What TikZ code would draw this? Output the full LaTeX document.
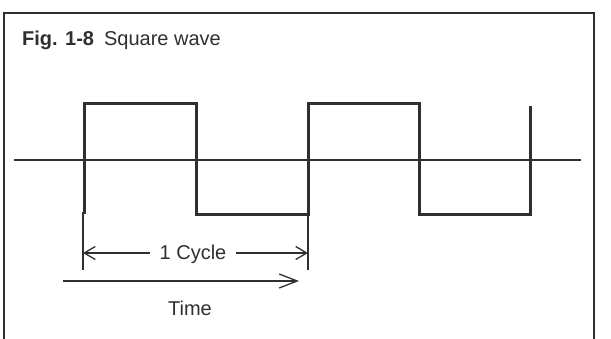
\documentclass[tikz,border=0pt]{standalone}
\usepackage{fontspec}
\setmainfont{Liberation Sans}
\usetikzlibrary{arrows.meta}
\definecolor{ink}{HTML}{2E302E}
\tikzset{
  frameline/.style={ink, line width=2.4pt},
  waveline/.style={ink, line width=3pt, line join=miter},
  axisline/.style={ink, line width=1.4pt},
  dimline/.style={ink, line width=1.3pt},
  label/.style={text=ink, font=\fontsize{20}{24}\selectfont, inner sep=0pt, anchor=base},
  barb/.tip={Straight Barb[length=11pt, width=13pt, line width=1.3pt]},
  bigbarb/.tip={Straight Barb[length=18pt, width=14pt, line width=1.3pt]}
}
\begin{document}
\begin{tikzpicture}[x=1pt, y=-1pt]
  \useasboundingbox (0,0) rectangle (611,338);
  \fill[white] (0,0) rectangle (611,338);

  % open frame around the figure
  \draw[frameline] (4,340) -- (4,13) -- (594,13) -- (594,340);

  % caption
  \node[label, anchor=base west] (title) at (22,45)
    {\textbf{Fig. 1-8}\hspace{0.5em}Square wave};

  % zero axis
  \coordinate (axL) at (14,160);
  \coordinate (axR) at (581,160);
  \draw[axisline] (axL) -- (axR);

  % square wave corners
  \coordinate (w0) at (84,214);
  \coordinate (w1) at (84,103);
  \coordinate (w2) at (196,103);
  \coordinate (w3) at (196,214);
  \coordinate (w4) at (308,214);
  \coordinate (w5) at (308,103);
  \coordinate (w6) at (419,103);
  \coordinate (w7) at (419,214);
  \coordinate (w8) at (530,214);
  \coordinate (w9) at (530,106);
  \draw[waveline] (w0) -- (w1) -- (w2) -- (w3) -- (w4) -- (w5) -- (w6) -- (w7) -- (w8) -- (w9);

  % extension lines marking one cycle
  \coordinate (e0) at (83,212);
  \coordinate (e1) at (83,270);
  \coordinate (e2) at (308,270);
  \draw[dimline] (e0) -- (e1);
  \draw[dimline] (w4) -- (e2);

  % cycle dimension
  \node[label] (cyc) at (193,259) {1 Cycle};
  \coordinate (c1) at (83,253);
  \coordinate (c2) at (308,253);
  \draw[dimline, barb-] (c1) -- ([xshift=-9pt]cyc.west |- c1);
  \draw[dimline, -barb] ([xshift=9pt]cyc.east |- c2) -- (c2);

  % time arrow
  \coordinate (t0) at (63,281);
  \coordinate (t1) at (299,281);
  \draw[dimline, -bigbarb] (t0) -- (t1);
  \node[label] (time) at (190,315) {Time};
\end{tikzpicture}
\end{document}
